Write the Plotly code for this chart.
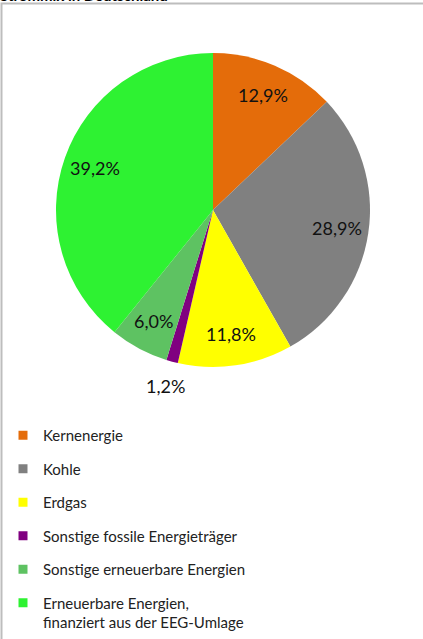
import math
import plotly.graph_objects as go

# Strommix in Deutschland
labels = [
    'Kernenergie',
    'Kohle',
    'Erdgas',
    'Sonstige fossile Energieträger',
    'Sonstige erneuerbare Energien',
    'Erneuerbare Energien,<br>finanziert aus der EEG-Umlage',
]
shares = [12.9, 28.9, 11.8, 1.2, 6.0, 39.2]
colors = ['#E46C0A', '#808080', '#FFFF00', '#800080', '#5EC262', '#2EF232']

W, H = 423, 639
cx, cy, r = 213, 210, 157  # pie centre and radius in pixels

fig = go.Figure()

fig.add_trace(go.Pie(
    labels=labels,
    values=shares,
    sort=False,
    direction='clockwise',
    rotation=0,
    marker=dict(colors=colors, line=dict(width=0)),
    textinfo='none',
    domain=dict(x=[(cx - r) / W, (cx + r) / W], y=[1 - (cy + r) / H, 1 - (cy - r) / H]),
    showlegend=False,
    hoverinfo='label+percent',
))

# percentage labels, placed along each slice's middle angle
total = sum(shares)
start = 0
for v in shares:
    mid = (start + v / 2) / total * 2 * math.pi
    start += v
    f = 0.8 if v >= 2 else 1.16
    fig.add_annotation(
        text=f'{v:.1f}%'.replace('.', ','),
        xref='paper', yref='paper',
        x=(cx + f * r * math.sin(mid)) / W,
        y=1 - (cy - f * r * math.cos(mid)) / H,
        xanchor='center', yanchor='middle',
        showarrow=False,
        font=dict(family='Lato', size=18, color='#111111'),
    )

# legend entries, one group each so the spacing can be set
for name, col in zip(labels, colors):
    fig.add_trace(go.Scatter(
        x=[None], y=[None], mode='markers', name=name, legendgroup=name,
        marker=dict(symbol='square', size=9, color=col),
    ))

fig.add_shape(type='rect', xref='paper', yref='paper',
              x0=1.5 / W, x1=1.2, y0=-0.2, y1=1 - 3.5 / H,
              line=dict(color='#BDBDBD', width=2))

fig.add_annotation(text='<b>Strommix in Deutschland</b>', xref='paper', yref='paper',
                   x=0, y=1 - 6 / H, xanchor='left', yanchor='bottom',
                   showarrow=False, xshift=-2,
                   font=dict(family='Lato', size=15, color='#000000'))

fig.update_layout(
    width=W, height=H,
    margin=dict(l=0, r=0, t=0, b=0),
    paper_bgcolor='white', plot_bgcolor='white',
    xaxis=dict(visible=False), yaxis=dict(visible=False),
    legend=dict(
        x=3 / W, y=0, xanchor='left', yanchor='bottom',
        tracegroupgap=11, valign='top',
        font=dict(family='Lato', size=15, color='#222222'),
        bgcolor='rgba(0,0,0,0)',
    ),
)

fig.write_html('out.html', config={'displayModeBar': False},
               post_script="document.body.style.margin='0';document.body.style.overflow='hidden';")
